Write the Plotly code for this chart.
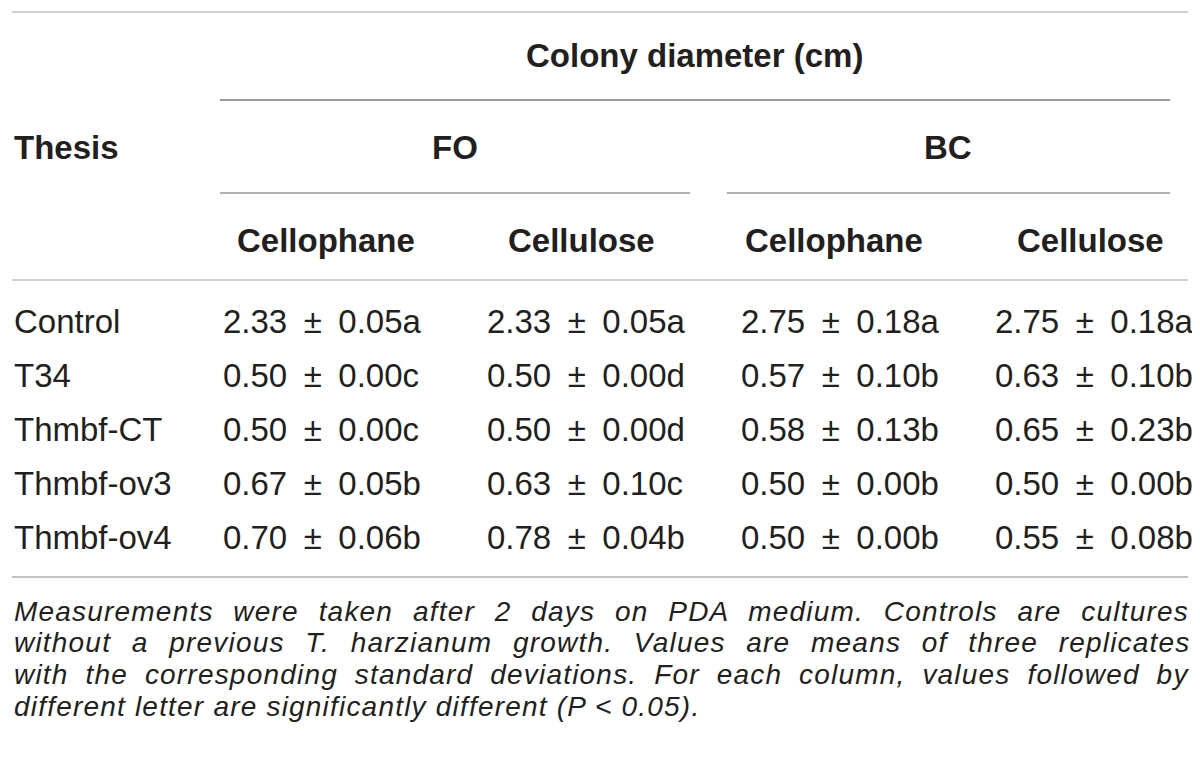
import plotly.graph_objects as go

# table content
title_top = "Colony diameter (cm)"
stub_head = "Thesis"
groups = ["FO", "BC"]
sub_cols = ["Cellophane", "Cellulose", "Cellophane", "Cellulose"]
theses = ["Control", "T34", "Thmbf-CT", "Thmbf-ov3", "Thmbf-ov4"]

fo_cellophane = ["2.33 ± 0.05a", "0.50 ± 0.00c", "0.50 ± 0.00c", "0.67 ± 0.05b", "0.70 ± 0.06b"]
fo_cellulose = ["2.33 ± 0.05a", "0.50 ± 0.00d", "0.50 ± 0.00d", "0.63 ± 0.10c", "0.78 ± 0.04b"]
bc_cellophane = ["2.75 ± 0.18a", "0.57 ± 0.10b", "0.58 ± 0.13b", "0.50 ± 0.00b", "0.50 ± 0.00b"]
bc_cellulose = ["2.75 ± 0.18a", "0.63 ± 0.10b", "0.65 ± 0.23b", "0.50 ± 0.00b", "0.55 ± 0.08b"]

footnote_lines = [
    "Measurements were taken after 2 days on PDA medium. Controls are cultures",
    "without a previous T. harzianum growth. Values are means of three replicates",
    "with the corresponding standard deviations. For each column, values followed by",
    "different letter are significantly different (P < 0.05).",
]

# layout (pixels, page coords; the page body has an 8px margin)
OFF = 8
W, H = 1200 - 2 * OFF, 768 - 2 * OFF
LEFT, RIGHT = 12, 1188
col_x = [221, 485, 739, 993]
sub_cx = [326, 581, 834, 1090]
group_cx = [455, 948]
row_y0, row_dy = 321, 54
foot_y0, foot_dy = 611, 31.7
foot_wordspace = [10.8, 11.7, 7.9, 0]
foot_letterspace = 1.2

txt = "#231f20"
fam = "Liberation Sans, Arial, sans-serif"
reg = dict(family=fam, size=33, color=txt)
bold = dict(family=fam, size=33, color=txt)

fig = go.Figure()
ann = []

ann.append(dict(x=694, y=55, text="<b>%s</b>" % title_top, xanchor="center", font=bold))
ann.append(dict(x=LEFT, y=147, text="<b>%s</b>" % stub_head, xanchor="left", font=bold))
for g, cx in zip(groups, group_cx):
    ann.append(dict(x=cx, y=147, text="<b>%s</b>" % g, xanchor="center", font=bold))
for s, cx in zip(sub_cols, sub_cx):
    ann.append(dict(x=cx, y=240, text="<b>%s</b>" % s, xanchor="center", font=bold))

cols = [fo_cellophane, fo_cellulose, bc_cellophane, bc_cellulose]
for i, name in enumerate(theses):
    y = row_y0 + i * row_dy
    ann.append(dict(x=LEFT, y=y, text=name, xanchor="left", font=reg))
    for cx, col in zip(col_x, cols):
        cell = col[i].replace(" ± ", "\u2002±\u2002")
        ann.append(dict(x=cx, y=y, text=cell, xanchor="left", font=reg))

for i, line in enumerate(footnote_lines):
    sty = "word-spacing:%.1fpx;letter-spacing:%.1fpx" % (foot_wordspace[i], foot_letterspace)
    t = "<i><span style='%s'>%s</span></i>" % (sty, line.replace("<", "&lt;"))
    ann.append(dict(x=LEFT, y=foot_y0 + i * foot_dy, text=t, xanchor="left",
                    font=dict(family=fam, size=28, color=txt)))

for a in ann:
    a.update(xref="x", yref="y", showarrow=False, yanchor="middle")

# rules
rules = [
    (LEFT, RIGHT, 12, "#cfcfcf", 2),
    (220, 1170, 100, "#9a9a9a", 2),
    (220, 690, 193, "#b0b0b0", 2),
    (727, 1170, 193, "#b0b0b0", 2),
    (LEFT, RIGHT, 280, "#d2d2d2", 2),
    (LEFT, RIGHT, 577, "#c4c4c4", 2),
]
shapes = [dict(type="line", xref="x", yref="y", x0=a, x1=b, y0=y, y1=y,
               line=dict(color=c, width=w)) for a, b, y, c, w in rules]

fig.update_layout(
    width=W, height=H,
    margin=dict(l=0, r=0, t=0, b=0),
    paper_bgcolor="white", plot_bgcolor="white",
    xaxis=dict(range=[OFF, OFF + W], visible=False, fixedrange=True),
    yaxis=dict(range=[OFF + H, OFF], visible=False, fixedrange=True),
    annotations=ann, shapes=shapes, showlegend=False,
)
fig.write_html("out.html", config={"displayModeBar": False})
